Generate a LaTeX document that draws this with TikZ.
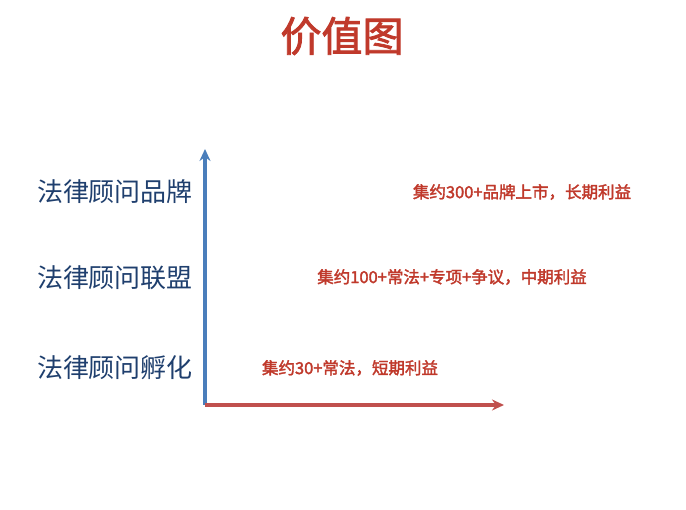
\documentclass[tikz,border=0pt]{standalone}
\usepackage{fontspec}
\usetikzlibrary{arrows.meta}
\newfontfamily\cjk[AutoFakeBold=2]{Noto Sans CJK SC}
\definecolor{tred}{HTML}{C0392B}
\definecolor{lblue}{HTML}{1F3F6E}
\definecolor{axb}{HTML}{4A7EBB}
\definecolor{axr}{HTML}{C0504D}
\begin{document}
\begin{tikzpicture}[x=1pt,y=1pt,
  lab/.style={font=\cjk\fontsize{26}{30}\selectfont,text=lblue},
  val/.style={font=\cjk\bfseries\fontsize{16.5}{20}\selectfont,text=tred},
  ax/.style={line width=3.5pt,-{Stealth[length=12pt,width=11pt]}}]
\useasboundingbox[fill=white] (0,0) rectangle (686,510);
\node[font=\cjk\bfseries\fontsize{41}{46}\selectfont,text=tred] (title) at (342,474) {价值图};
\coordinate (o) at (205,105);
\coordinate (top) at (205,361);
\coordinate (right) at (504,105);
\draw[ax,axb] (o) -- (top);
\draw[ax,axr] (o) -- (right);
\node[lab] (l1) at (115,318) {法律顾问品牌};
\node[lab] (l2) at (115,232) {法律顾问联盟};
\node[lab] (l3) at (115,142) {法律顾问孵化};
\node[val] (v1) at (522,318) {集约300+品牌上市，长期利益};
\node[val] (v2) at (452,233) {集约100+常法+专项+争议，中期利益};
\node[val] (v3) at (350,142) {集约30+常法，短期利益};
\end{tikzpicture}
\end{document}
